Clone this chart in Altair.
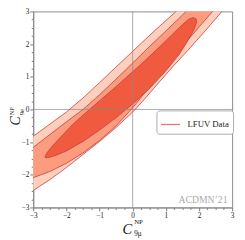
import altair as alt
import pandas as pd

# ---- contour vertices (data units) ----
outer_x = [-3.3, -3.0, -2.5, -2.0, -1.5, -1.0, -0.5, 0.0, 0.65, 1.31, 1.62,
           2.95, 2.69, 2.2, 1.7, 1.2, 0.7, 0.3, 0.0, -0.5, -1.0, -1.5, -2.0, -2.5, -3.0, -3.3]
outer_y = [-1.02, -0.82, -0.45, -0.08, 0.35, 0.82, 1.3, 1.78, 2.4, 3.0, 3.3,
           3.3, 3.0, 2.42, 1.85, 1.3, 0.72, 0.25, -0.08, -0.55, -0.98, -1.38, -1.78, -2.15, -2.48, -2.68]

middle_x = [-3.3, -3.0, -2.5, -2.0, -1.5, -1.0, -0.5, 0.0, 0.5, 1.0, 1.61, 1.92,
            2.66, 2.41, 2.0, 1.5, 1.0, 0.5, 0.0, -0.5, -1.0, -1.5, -2.0, -2.5, -3.0, -3.3]
middle_y = [-1.38, -1.16, -0.77, -0.38, 0.0, 0.45, 0.93, 1.42, 1.92, 2.4, 3.0, 3.3,
            3.3, 3.0, 2.52, 1.93, 1.33, 0.68, 0.05, -0.5, -0.95, -1.33, -1.65, -1.9, -2.09, -2.18]

inner_x = [-2.65, -2.58, -2.42, -2.15, -1.75, -1.3, -0.5, 0.25, 0.9, 1.35, 1.56, 1.7, 1.82, 1.91,
           1.93, 1.85, 1.65, 1.4, 1.0, 0.5, 0.0, -0.5, -1.0, -1.5, -2.0, -2.3, -2.5, -2.6]
inner_y = [-1.46, -1.32, -1.12, -0.82, -0.4, 0.0, 0.7, 1.38, 2.0, 2.45, 2.65, 2.77, 2.81, 2.78,
           2.68, 2.45, 2.08, 1.68, 1.18, 0.63, 0.17, -0.25, -0.63, -0.98, -1.27, -1.4, -1.46, -1.48]

legend_label = "LFUV Data"
stamp_text = ["ACDMN\u201921"]
stamp_x = [2.86]
stamp_y = [-2.76]
axis_lines = [0]

major_ticks = [-3, -2, -1, 0, 1, 2, 3]
minor_step = 0.25
tick_values = [round(-3 + minor_step * i, 2) for i in range(25)]

fill_outer = "#fdd0bd"
fill_middle = "#fb9c7f"
fill_inner = "#f05b3f"
edge_color = "#c83a3c"
legend_line = "#e8737a"

W, H = 205, 202
SERIF = "Liberation Serif"


def poly_df(xs, ys):
    return pd.DataFrame({"x": xs, "y": ys, "o": list(range(len(xs))), "lab": legend_label})


xsc = alt.Scale(domain=[-3, 3], nice=False, zero=False)
ysc = alt.Scale(domain=[-3, 3], nice=False, zero=False)

axis_common = dict(
    values=tick_values,
    labelExpr="datum.value % 1 === 0 ? format(datum.value, 'd') : ''",
    tickSize={"condition": {"test": "datum.value % 1 === 0", "value": 3.5}, "value": 2},
    grid=False,
    title=None,
    labelFont=SERIF,
    labelFontSize=7.5,
    labelColor="#222222",
    tickColor="#777777",
    domainColor="#888888",
    labelFlush=False,
    labelOverlap=False,
    labelPadding=1,
)
AX_X = alt.Axis(orient="bottom", **axis_common)
AX_Y = alt.Axis(orient="left", **axis_common)


def contour(xs, ys, fill):
    return alt.Chart(poly_df(xs, ys)).mark_line(
        fill=fill, stroke=edge_color, strokeWidth=0.8, interpolate="linear-closed", clip=True
    ).encode(
        x=alt.X("x:Q", scale=xsc, axis=AX_X),
        y=alt.Y("y:Q", scale=ysc, axis=AX_Y),
        order="o:Q",
    )


outer = contour(outer_x, outer_y, fill_outer)
middle = contour(middle_x, middle_y, fill_middle)
inner = contour(inner_x, inner_y, fill_inner)

# legend-only layer (no visible marks)
legend_layer = alt.Chart(poly_df(inner_x, inner_y)).transform_filter("false").mark_line().encode(
    x=alt.X("x:Q", scale=xsc, axis=AX_X),
    y=alt.Y("y:Q", scale=ysc, axis=AX_Y),
    color=alt.Color(
        "lab:N",
        scale=alt.Scale(domain=[legend_label], range=[legend_line]),
        legend=alt.Legend(
            title=None,
            orient="none",
            legendX=127,
            legendY=102,
            symbolType="stroke",
            symbolSize=380,
            symbolStrokeWidth=1.3,
            labelFont=SERIF,
            labelFontSize=9,
            labelColor="#222222",
            padding=4,
            cornerRadius=3,
            strokeColor="#aaaaaa",
            fillColor="white",
            labelOffset=7,
        ),
    ),
)

lines_df = pd.DataFrame({"v": axis_lines})
vrule = alt.Chart(lines_df).mark_rule(color="#888888", opacity=0.7, strokeWidth=1).encode(
    x=alt.X("v:Q", scale=xsc, axis=AX_X))
hrule = alt.Chart(lines_df).mark_rule(color="#888888", opacity=0.7, strokeWidth=1).encode(
    y=alt.Y("v:Q", scale=ysc, axis=AX_Y))

stamp = alt.Chart(pd.DataFrame({"t": stamp_text, "x": stamp_x, "y": stamp_y})).mark_text(
    align="right", baseline="middle", font=SERIF, fontSize=10, color="#aaaaaa"
).encode(x=alt.X("x:Q", scale=xsc, axis=AX_X), y=alt.Y("y:Q", scale=ysc, axis=AX_Y), text="t:N")


def label(txt, px, py, size, angle=0, italic=False, align="center"):
    return alt.Chart(pd.DataFrame({"t": [txt]})).mark_text(
        font=SERIF, fontSize=size, color="#111111", angle=angle,
        fontStyle="italic" if italic else "normal", align=align, baseline="middle"
    ).encode(x=alt.value(px), y=alt.value(py), text="t:N")


# x-axis title  C^NP_{9mu}
xt_c = label("C", 97, 224, 15, italic=True)
xt_sup = label("NP", 104, 217.5, 7, align="left")
xt_sub = label("9\u03bc", 104, 229, 7.5, align="left")
# y-axis title  C^NP_{9e} (rotated)
yt_c = label("C", -18, 113, 14, angle=270, italic=True)
yt_sup = label("NP", -22, 107, 6.5, angle=270, align="left")
yt_sub = label("9e", -11, 107, 7, angle=270, align="left")

chart = alt.layer(
    outer, middle, inner, legend_layer, vrule, hrule, stamp,
    xt_c, xt_sup, xt_sub, yt_c, yt_sup, yt_sub,
).properties(
    width=W, height=H,
    autosize=alt.AutoSizeParams(type="none"),
    padding={"left": 26, "top": 0, "right": 5, "bottom": 30},
).configure_view(stroke="#888888", strokeWidth=1)

chart.save("out.html", embed_options={"renderer": "svg", "actions": False})
